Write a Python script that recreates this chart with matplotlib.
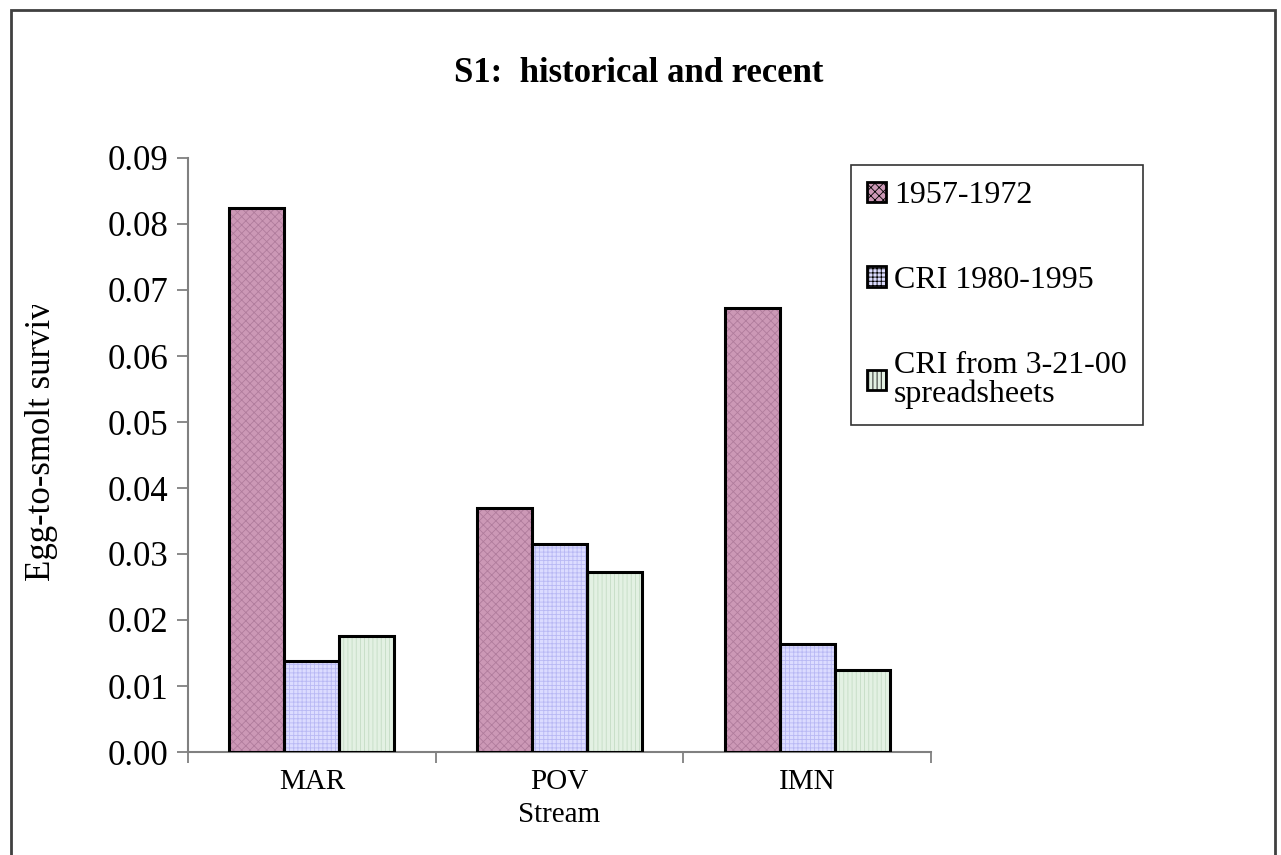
import numpy as np
import matplotlib.pyplot as plt
from matplotlib.patches import Rectangle
from matplotlib.transforms import Bbox, TransformedBbox

plt.rcParams['font.family'] = ['Liberation Serif', 'DejaVu Serif']
plt.rcParams['hatch.linewidth'] = 0.6

# data
streams = ["MAR", "POV", "IMN"]
series_names = ["1957-1972", "CRI 1980-1995", "CRI from 3-21-00\nspreadsheets"]
hist_1957_1972 = [0.0824, 0.0370, 0.0673]
cri_1980_1995 = [0.0138, 0.0315, 0.0164]
cri_3_21_00 = [0.0176, 0.0273, 0.0124]
yticks = [0.00, 0.01, 0.02, 0.03, 0.04, 0.05, 0.06, 0.07, 0.08, 0.09]

fills = ['#cc98b6', '#dcdcff', '#e3f1e3']
hatch_cols = ['#b07c9c', '#b8b8f4', '#c4dcc4']
hatches = ['xxxx', '++++', '||||']

W, H = 1281, 855
fig = plt.figure(figsize=(W / 100, H / 100), dpi=100)
ax = fig.add_axes([188 / W, 1 - 752 / H, (931 - 188) / W, (752 - 158) / H])

x = np.arange(len(streams))
bw = 1 / 4.5
for i, vals in enumerate([hist_1957_1972, cri_1980_1995, cri_3_21_00]):
    pos = x + (i - 1) * bw
    ax.bar(pos, vals, bw, color=fills[i], edgecolor=hatch_cols[i], hatch=hatches[i], linewidth=0, zorder=2)
    ax.bar(pos, vals, bw, fill=False, edgecolor='black', linewidth=2.2, zorder=3,
           label=series_names[i])

ax.set_xlim(-0.5, 2.5)
ax.set_ylim(0, 0.09)
ax.set_yticks(yticks)
ax.set_yticklabels([f"{v:.2f}" for v in yticks], fontsize=25)
ax.set_xticks(x)
ax.set_xticklabels(streams, fontsize=21)
ax.set_xticks([-0.5, 0.5, 1.5, 2.5], minor=True)
ax.tick_params(axis='x', which='major', length=0, pad=12)
ax.tick_params(axis='x', which='minor', length=8, width=1.3, color='#808080', direction='out')
ax.tick_params(axis='y', length=8, width=1.3, color='#808080', direction='out', pad=6)
for s in ['top', 'right']:
    ax.spines[s].set_visible(False)
for s in ['left', 'bottom']:
    ax.spines[s].set_color('#808080')
    ax.spines[s].set_linewidth(1.5)

handles = []
for i in range(3):
    handles.append(Rectangle((0, 0), 1, 1, facecolor=fills[i], edgecolor='black',
                             linewidth=2, hatch=hatches[i]))
leg = fig.legend(handles, series_names, loc='upper left',
                 bbox_to_anchor=(851 / W, 1 - 165 / H), fontsize=23,
                 frameon=True, fancybox=False, edgecolor='black',
                 handlelength=0.6, handleheight=0.6, handletextpad=0.25,
                 labelspacing=1.75, borderpad=0.5, borderaxespad=0)
leg.get_frame().set_linewidth(1.2)
for t in leg.get_texts():
    t.set_linespacing(1.0)

fig.text(639 / W, 1 - 73 / H, "S1:  historical and recent", fontsize=25,
         fontweight='bold', ha='center', va='center')
fig.text(559 / W, 1 - 815 / H, "Stream", fontsize=21, ha='center', va='center')

# y label, clipped at the top like the original
yl = fig.text(42 / W, 1 - 429 / H, "Egg-to-smolt survival", fontsize=25,
              rotation=90, ha='center', va='center')
yl.set_clip_box(TransformedBbox(Bbox([[0, 0], [0.1, 1 - 305 / H]]), fig.transFigure))
yl.set_clip_on(True)

# chart area border
fig.add_artist(Rectangle((11 / W, -0.05), (1275 - 11) / W, 1.05 - 10 / H,
                         transform=fig.transFigure, fill=False,
                         edgecolor='#404040', linewidth=2))

fig.savefig("out.png", dpi=100)
